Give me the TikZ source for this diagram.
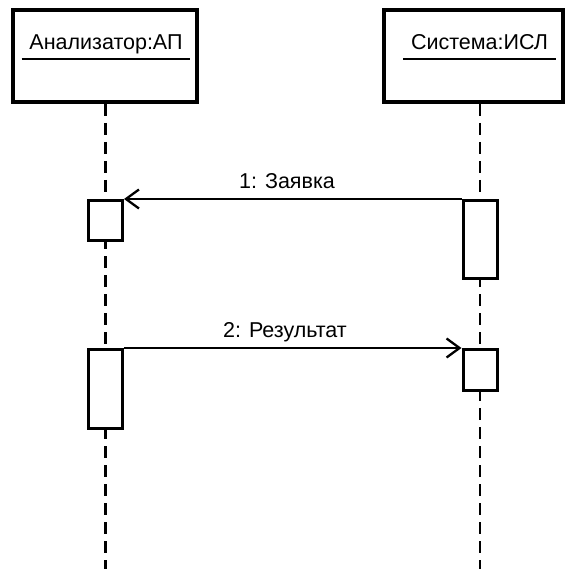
\documentclass[tikz,border=0pt]{standalone}
\usepackage{fontspec}
\setmainfont{Liberation Sans}
\usetikzlibrary{arrows.meta}
\begin{document}
\begin{tikzpicture}[x=1pt,y=-1pt,
  objbox/.style={draw,line width=3.5pt,inner sep=0pt},
  acttn/.style={draw,line width=3pt,fill=white,inner sep=0pt,minimum width=34pt,anchor=north},
  lifeline/.style={line width=2.3pt,dash pattern=on 12pt off 7pt},
  msg/.style={line width=2pt,-{Straight Barb[length=13pt,width=19pt,line width=2.3pt]}},
  lbl/.style={font=\fontsize{21.5}{24}\selectfont,anchor=base,inner sep=0pt},
  objtxt/.style={font=\fontsize{21.5}{24}\selectfont,anchor=base,inner xsep=7.5pt,inner ysep=0pt}
]
\useasboundingbox (0,0) rectangle (565,569);
% header boxes
\draw[objbox] (13,10) coordinate (a1) rectangle (197,102) coordinate (a2);
\draw[objbox] (384,10) coordinate (b1) rectangle (563,102) coordinate (b2);
\node[objtxt] (ta) at (106,50) {Анализатор:АП};
\node[objtxt] (tb) at (479.5,50) {Система:ИСЛ};
\draw[line width=2.2pt] ([yshift=-9pt]ta.base west) coordinate (ua1) -- ([yshift=-9pt]ta.base east) coordinate (ua2);
\draw[line width=2.2pt] ([yshift=-9pt]tb.base west) coordinate (ub1) -- ([yshift=-9pt]tb.base east) coordinate (ub2);
% lifelines
\coordinate (la) at (105.5,104);
\coordinate (lae) at (105.5,569);
\coordinate (lb) at (480,104);
\coordinate (lbe) at (480,569);
\draw[lifeline] (la) -- (lae);
\draw[lifeline] (lb) -- (lbe);
% activations
\node[acttn,minimum height=40pt] (A1) at (105.5,199) {};
\node[acttn,minimum height=78pt] (B1) at (480,199) {};
\node[acttn,minimum height=79pt] (A2) at (105.5,348) {};
\node[acttn,minimum height=41pt] (B2) at (480,348) {};
% messages
\draw[msg] (B1.north west) -- (A1.north east);
\draw[msg] (A2.north east) -- (B2.north west);
\node[lbl] (m1) at (287,189) {1: Заявка};
\node[lbl] (m2) at (285,337) {2: Результат};
\end{tikzpicture}
\end{document}
